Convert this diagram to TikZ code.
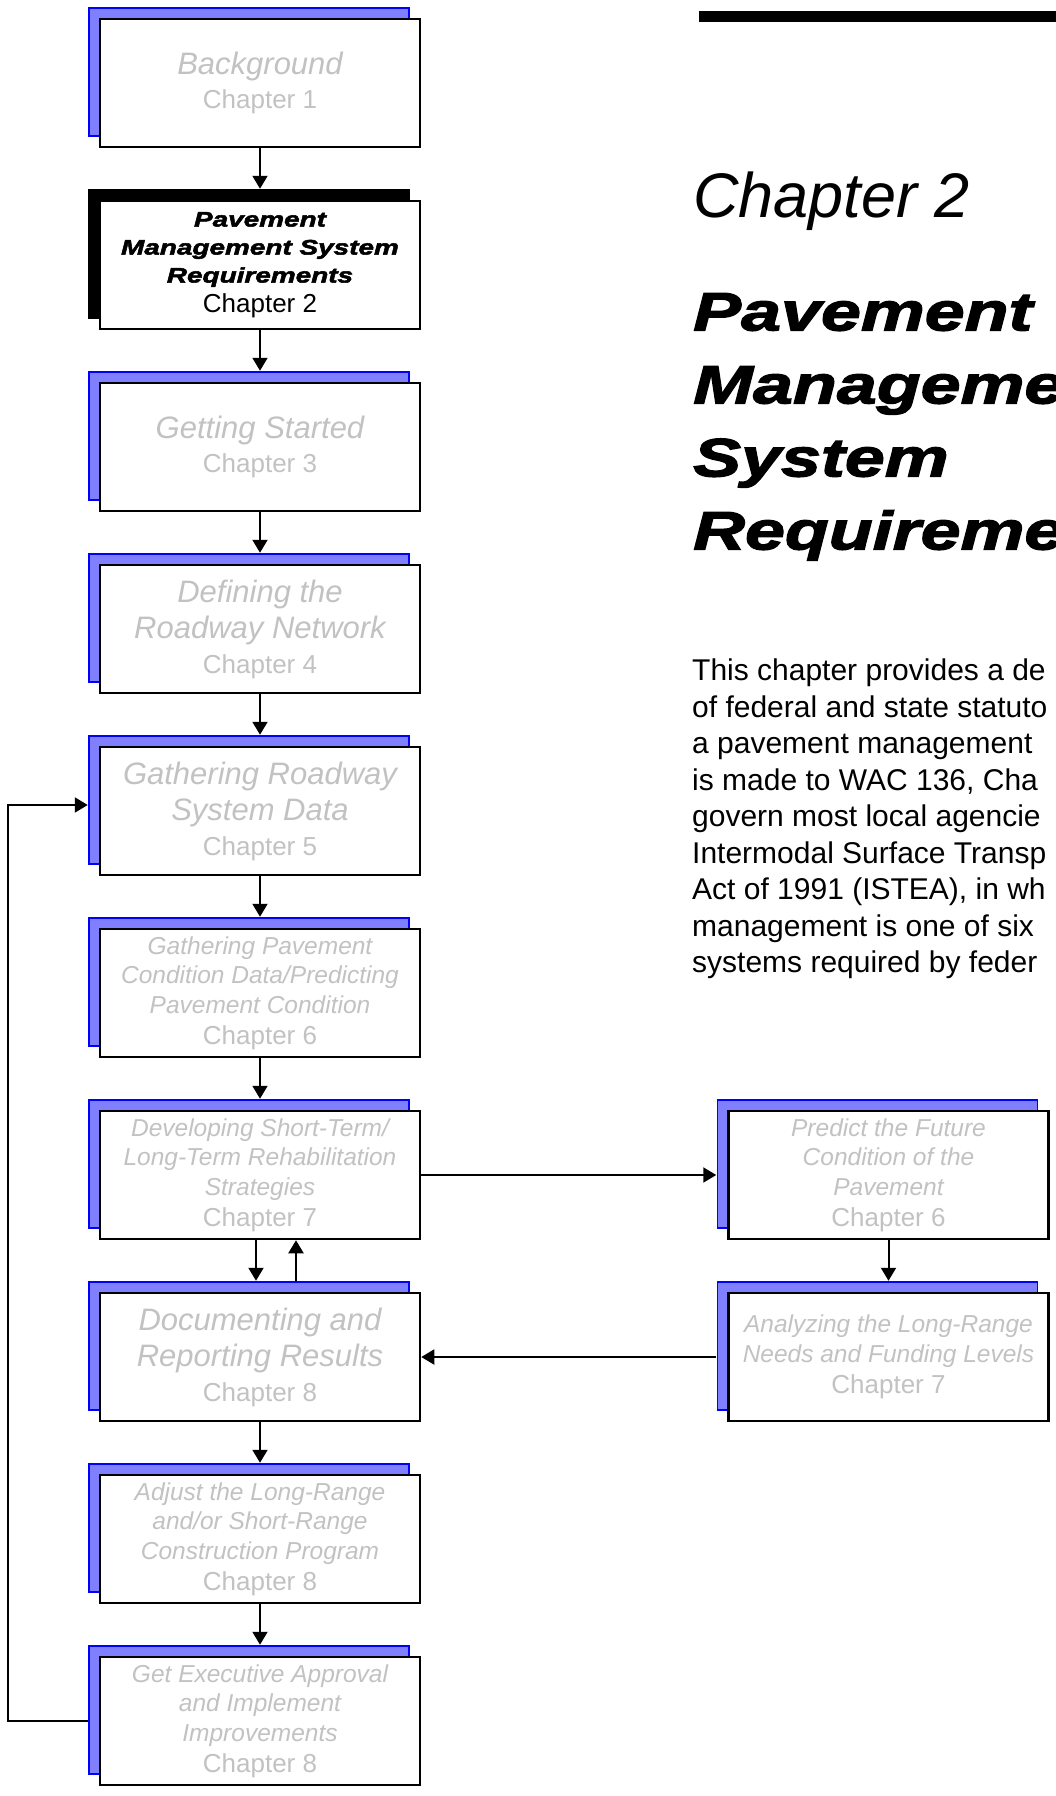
\documentclass[tikz,border=0pt]{standalone}
\usepackage{fontspec}
\setmainfont{Liberation Sans}
\newfontfamily\heavyfont[FakeStretch=1.33,FakeBold=2.5]{Liberation Sans Bold Italic}
\usetikzlibrary{arrows.meta,positioning,shadows}
\definecolor{dimtxt}{gray}{0.76}
\definecolor{shadefill}{RGB}{128,128,255}
\definecolor{shadeline}{RGB}{0,0,255}
\newcommand{\chap}[1]{{\normalfont\fontsize{26}{31}\selectfont Chapter #1}}
\tikzset{
  boxbase/.style={draw=black,line width=2.5pt,fill=white,minimum width=320pt,
    minimum height=128pt,inner sep=0pt,align=center},
  stepbox/.style={boxbase,text=dimtxt,copy shadow={shadow xshift=-11pt,
    shadow yshift=11pt,fill=shadefill,draw=shadeline,line width=1.5pt}},
  curbox/.style={boxbase,text=black,copy shadow={shadow xshift=-11pt,
    shadow yshift=11pt,fill=black,draw=black,line width=1.5pt}},
  bigtxt/.style={font=\fontsize{31}{36.5}\selectfont\itshape},
  smalltxt/.style={font=\fontsize{24.5}{29.5}\selectfont\itshape},
  link/.style={line width=2pt,>={Triangle[length=13pt,width=15pt]}}
}

\begin{document}
\begin{tikzpicture}[x=1pt,y=-1pt]
\useasboundingbox (0,0) rectangle (1056,1796);
\clip (0,0) rectangle (1056,1796);
\fill[white] (0,0) rectangle (1056,1796);

% chapter heading
\fill (699,11) rectangle (1056,22);
\node[anchor=base west,inner sep=0pt,font=\fontsize{63}{72}\selectfont\itshape] (chno) at (693,217) {Chapter 2};
\node[anchor=north west,align=left,inner sep=0pt,font=\fontsize{54}{73}\selectfont\heavyfont] (title) at (693,293)
  {Pavement\\Manageme\\System\\Requireme};
\node[anchor=north west,align=left,inner sep=0pt,font=\fontsize{30}{36.5}\selectfont] (intro) at (692,659)
  {This chapter provides a de\\of federal and state statuto\\a pavement management\\is made to WAC 136, Cha\\
   govern most local agencie\\Intermodal Surface Transp\\Act of 1991 (ISTEA), in wh\\management is one of six\\
   systems required by feder};

% left column
\node[stepbox,bigtxt] (A) at (260,83) {Background\\[-2pt]\chap{1}};
\node[curbox,font=\fontsize{21}{28}\selectfont\heavyfont] (B) at (260,265)
  {Pavement\\Management System\\Requirements\\[2pt]\chap{2}};
\node[stepbox,bigtxt] (C) at (260,447) {Getting Started\\[-2pt]\chap{3}};
\node[stepbox,bigtxt] (D) at (260,629) {Defining the\\Roadway Network\\[-2pt]\chap{4}};
\node[stepbox,bigtxt] (E) at (260,811) {Gathering Roadway\\System Data\\[-2pt]\chap{5}};
\node[stepbox,smalltxt] (F) at (260,993) {Gathering Pavement\\Condition Data/Predicting\\Pavement Condition\\[1.5pt]\chap{6}};
\node[stepbox,smalltxt] (G) at (260,1175) {Developing Short-Term/\\Long-Term Rehabilitation\\Strategies\\[1.5pt]\chap{7}};
\node[stepbox,bigtxt] (H) at (260,1357) {Documenting and\\Reporting Results\\[-2pt]\chap{8}};
\node[stepbox,smalltxt] (I) at (260,1539) {Adjust the Long-Range\\and/or Short-Range\\Construction Program\\[1.5pt]\chap{8}};
\node[stepbox,smalltxt] (J) at (260,1721) {Get Executive Approval\\and Implement\\Improvements\\[1.5pt]\chap{8}};

% right column
\node[stepbox,smalltxt] (P) at (888.5,1175) {Predict the Future\\Condition of the\\Pavement\\[1.5pt]\chap{6}};
\node[stepbox,smalltxt] (Q) at (888.5,1357) {Analyzing the Long-Range\\Needs and Funding Levels\\[1.5pt]\chap{7}};

\coordinate (fb) at (8,1721);

\path[->,link,shorten >=11pt]
(A) edge (B)
(B) edge (C)
(C) edge (D)
(D) edge (E)
(E) edge (F)
(F) edge (G)
([xshift=-4pt]G.south) edge ([xshift=-4pt]H.north)
(H) edge (I)
(I) edge (J)
(G) edge (P)
(P) edge (Q);
\path[->,link,shorten <=11pt]
([xshift=36pt]H.north) edge ([xshift=36pt]G.south)
(Q) edge (H);
\draw[->,link,shorten <=11pt,shorten >=11pt] (J.west) -- (fb) |- ([yshift=6pt]E.west);
\end{tikzpicture}
\end{document}
